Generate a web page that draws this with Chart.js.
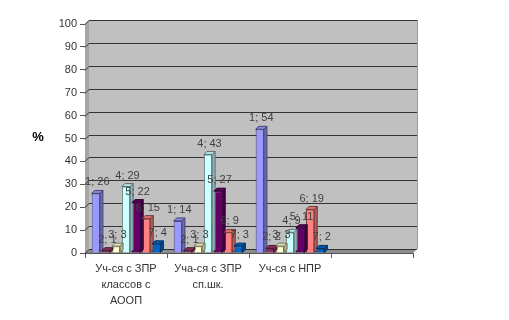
<!DOCTYPE html>
<html lang="ru">
<head>
  <meta charset="UTF-8" />
  <title>Уч-ся с ЗПР / НПР</title>
  <style>
    body { margin: 0; background: #fff; }
    #wrap { width: 509px; height: 320px; }
  </style>
  <script src="https://cdn.jsdelivr.net/npm/chart.js"></script>
</head>
<body>
  <div id="wrap"><canvas id="chart" width="509" height="320"></canvas></div>
  <script>
    const categories = [
      ['Уч-ся с ЗПР', 'классов с', 'АООП'],
      ['Уча-ся с ЗПР', 'сп.шк.'],
      ['Уч-ся с НПР'],
      ''
    ];
    const series1 = [26, 14, 54, null];
    const series2 = [1, 1, 2, null];
    const series3 = [3, 3, 3, null];
    const series4 = [29, 43, 9, null];
    const series5 = [22, 27, 11, null];
    const series6 = [15, 9, 19, null];
    const series7 = [4, 3, 2, null];
    const seriesNames = ['1', '2', '3', '4', '5', '6', '7'];
    const colors = ['#9999FF', '#993366', '#FFFFCC', '#CCFFFF', '#660066', '#FF8080', '#0066CC'];
    const yTicks = [0, 10, 20, 30, 40, 50, 60, 70, 80, 90, 100];

    const DEPTH = 3;   // 3D bar depth
    const WALL = 4;    // back wall offset

    function shade(hex, f) {
      const n = parseInt(hex.slice(1), 16);
      const r = Math.round(((n >> 16) & 255) * f);
      const g = Math.round(((n >> 8) & 255) * f);
      const b = Math.round((n & 255) * f);
      return `rgb(${r},${g},${b})`;
    }

    // gray back wall, side wall, floor and gridlines
    const wallPlugin = {
      id: 'wall',
      beforeDatasetsDraw(chart) {
        const { ctx, chartArea: a, scales } = chart;
        ctx.save();
        ctx.fillStyle = '#C0C0C0';
        ctx.fillRect(a.left + WALL, a.top - WALL, a.right - a.left, a.bottom - a.top);
        // left side wall
        ctx.fillStyle = '#A6A6A6';
        ctx.beginPath();
        ctx.moveTo(a.left, a.top);
        ctx.lineTo(a.left + WALL, a.top - WALL);
        ctx.lineTo(a.left + WALL, a.bottom - WALL);
        ctx.lineTo(a.left, a.bottom);
        ctx.closePath();
        ctx.fill();
        // floor
        ctx.fillStyle = '#8C8C8C';
        ctx.beginPath();
        ctx.moveTo(a.left, a.bottom);
        ctx.lineTo(a.left + WALL, a.bottom - WALL);
        ctx.lineTo(a.right + WALL, a.bottom - WALL);
        ctx.lineTo(a.right, a.bottom);
        ctx.closePath();
        ctx.fill();
        // gridlines
        ctx.strokeStyle = '#333333';
        ctx.lineWidth = 1;
        yTicks.forEach(t => {
          const y = Math.round(scales.y.getPixelForValue(t)) + 0.5;
          ctx.beginPath();
          ctx.moveTo(a.left, y);
          ctx.lineTo(a.left + WALL, y - WALL);
          ctx.lineTo(a.right + WALL, y - WALL);
          ctx.stroke();
        });
        ctx.strokeStyle = '#9a9a9a';
        ctx.beginPath();
        ctx.moveTo(a.right + WALL + 0.5, a.top - WALL);
        ctx.lineTo(a.right + WALL + 0.5, a.bottom - WALL);
        ctx.stroke();
        ctx.restore();
      }
    };

    // 3D faces and "series; value" labels
    const barPlugin = {
      id: 'bars3d',
      afterDatasetsDraw(chart) {
        const { ctx } = chart;
        ctx.save();
        chart.data.datasets.forEach((ds, i) => {
          const meta = chart.getDatasetMeta(i);
          meta.data.forEach((bar, j) => {
            if (ds.data[j] == null) return;
            const half = bar.width / 2;
            const x0 = bar.x - half, x1 = bar.x + half;
            const top = bar.y, base = bar.base;
            ctx.strokeStyle = shade(colors[i], 0.45);
            ctx.lineWidth = 1;
            ctx.fillStyle = shade(colors[i], 0.7);
            ctx.beginPath();
            ctx.moveTo(x1, top);
            ctx.lineTo(x1 + DEPTH, top - DEPTH);
            ctx.lineTo(x1 + DEPTH, base - DEPTH);
            ctx.lineTo(x1, base);
            ctx.closePath();
            ctx.fill();
            ctx.stroke();
            ctx.fillStyle = shade(colors[i], 0.88);
            ctx.beginPath();
            ctx.moveTo(x0, top);
            ctx.lineTo(x0 + DEPTH, top - DEPTH);
            ctx.lineTo(x1 + DEPTH, top - DEPTH);
            ctx.lineTo(x1, top);
            ctx.closePath();
            ctx.fill();
            ctx.stroke();
          });
        });
        ctx.font = '11px "Liberation Sans", Arial, sans-serif';
        ctx.fillStyle = '#404040';
        ctx.textAlign = 'center';
        ctx.textBaseline = 'middle';
        chart.data.datasets.forEach((ds, i) => {
          const meta = chart.getDatasetMeta(i);
          meta.data.forEach((bar, j) => {
            const v = ds.data[j];
            if (v == null) return;
            ctx.fillText(`${seriesNames[i]}; ${v}`, bar.x + DEPTH / 2, bar.y - DEPTH - 8);
          });
        });
        ctx.font = 'bold 13px "Liberation Sans", Arial, sans-serif';
        ctx.fillStyle = '#000';
        ctx.fillText('%', 38, 137);
        ctx.restore();
      }
    };

    const datasets = [series1, series2, series3, series4, series5, series6, series7].map((d, i) => ({
      label: seriesNames[i],
      data: d,
      backgroundColor: colors[i],
      borderColor: shade(colors[i], 0.45),
      borderWidth: 1,
      categoryPercentage: 0.86,
      barPercentage: 0.82
    }));

    new Chart(document.getElementById('chart'), {
      type: 'bar',
      data: { labels: categories, datasets: datasets },
      options: {
        responsive: false,
        animation: false,
        layout: { padding: { left: 0, right: 96, top: 24, bottom: 0 } },
        plugins: { legend: { display: false }, tooltip: { enabled: false } },
        scales: {
          x: {
            offset: true,
            afterFit(scale) { scale.height = 67; },
            grid: { offset: true, drawOnChartArea: false, tickLength: 5, color: '#555' },
            border: { color: '#555' },
            ticks: {
              color: '#333',
              font: { family: '"Liberation Sans", Arial, sans-serif', size: 11, lineHeight: 1.45 },
              maxRotation: 0,
              autoSkip: false,
              padding: 3
            }
          },
          y: {
            min: 0,
            max: 100,
            afterFit(scale) { scale.width = 85; },
            afterBuildTicks(scale) { scale.ticks = yTicks.map(v => ({ value: v })); },
            grid: { drawOnChartArea: false, tickLength: 5, color: '#555' },
            border: { color: '#555' },
            ticks: {
              color: '#333',
              font: { family: '"Liberation Sans", Arial, sans-serif', size: 11 },
              padding: 3
            }
          }
        }
      },
      plugins: [wallPlugin, barPlugin]
    });
  </script>
</body>
</html>
